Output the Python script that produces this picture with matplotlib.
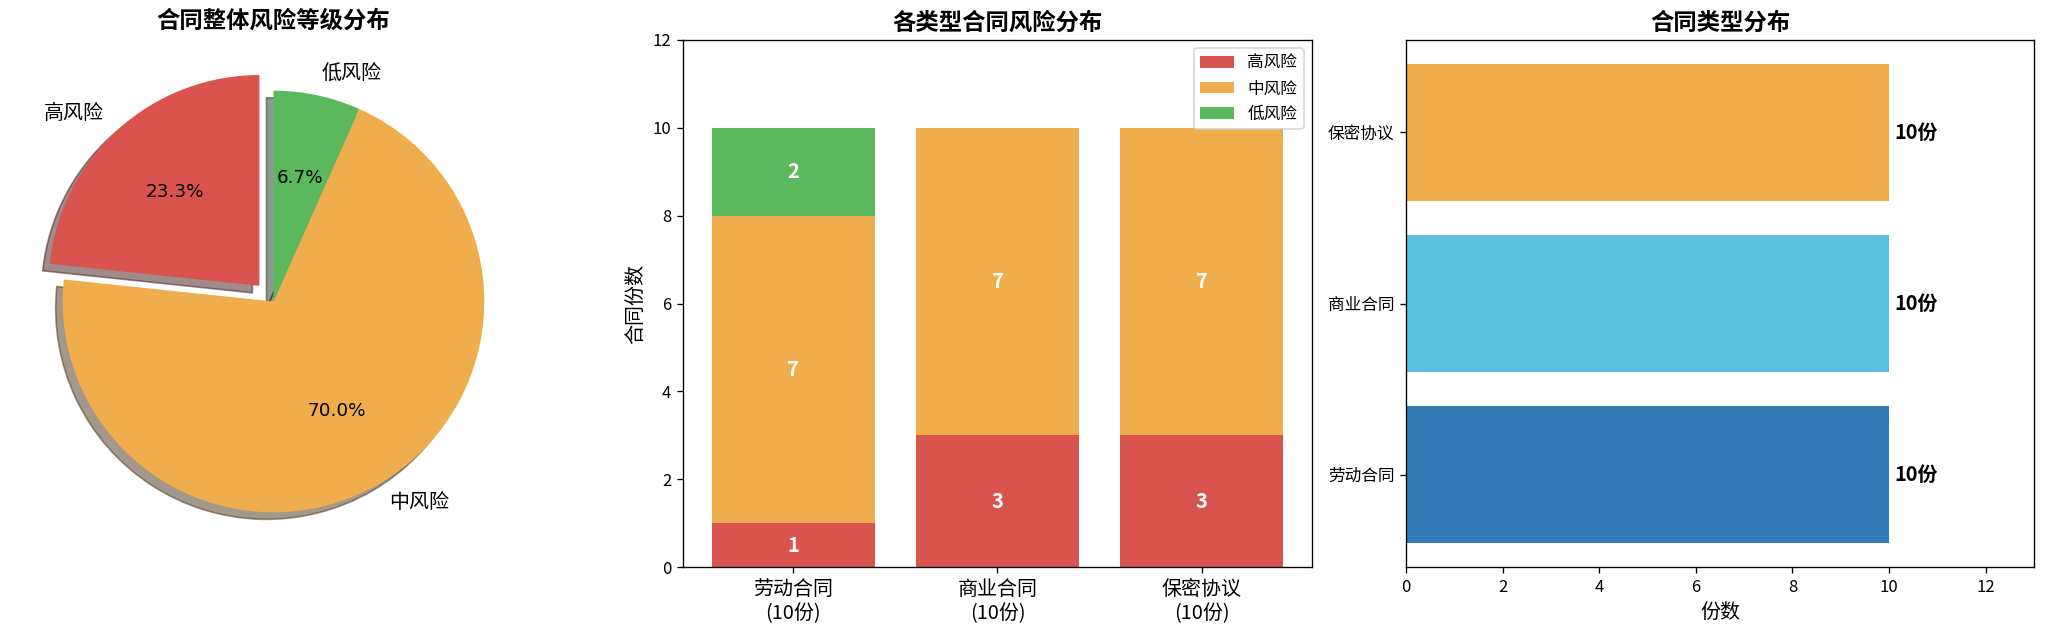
import matplotlib
matplotlib.use("Agg")
import matplotlib.pyplot as plt
import numpy as np

plt.rcParams['font.family'] = ['Noto Sans CJK SC', 'DejaVu Sans']
plt.rcParams['axes.unicode_minus'] = False

risk_levels = ['高风险', '中风险', '低风险']
risk_totals = [7, 21, 2]
risk_colors = ['#d9534f', '#f0ad4e', '#5cb85c']

contract_types = ['劳动合同', '商业合同', '保密协议']
high_counts = [1, 3, 3]
mid_counts = [7, 7, 7]
low_counts = [2, 0, 0]
type_totals = [10, 10, 10]
type_colors = ['#337ab7', '#5bc0de', '#f0ad4e']

W, H = 2046, 634
DPI = 120
fig = plt.figure(figsize=(W / DPI, H / DPI), dpi=DPI)

def box(left, top, right, bottom):
    return [left / W, 1 - bottom / H, (right - left) / W, (bottom - top) / H]

# pie
ax1 = fig.add_axes(box(10, 38, 537, 565))
wedges, texts, autotexts = ax1.pie(risk_totals, labels=risk_levels, colors=risk_colors,
                                   autopct='%1.1f%%', startangle=90, explode=(0.1, 0, 0),
                                   shadow=True, textprops={'fontsize': 12})
for t in autotexts:
    t.set_fontfamily('DejaVu Sans')
    t.set_fontsize(11)
ax1.set_title('合同整体风险等级分布', fontsize=14, fontweight='bold')

# stacked bars
ax2 = fig.add_axes(box(683, 40, 1312, 567))
x = np.arange(len(contract_types))
high = np.array(high_counts)
mid = np.array(mid_counts)
low = np.array(low_counts)
b1 = ax2.bar(x, high, color=risk_colors[0], label='高风险')
b2 = ax2.bar(x, mid, bottom=high, color=risk_colors[1], label='中风险')
b3 = ax2.bar(x, low, bottom=high + mid, color=risk_colors[2], label='低风险')
for bars, vals, base in [(b1, high, np.zeros(3)), (b2, mid, high), (b3, low, high + mid)]:
    for bar, v, b in zip(bars, vals, base):
        if v > 0:
            ax2.text(bar.get_x() + bar.get_width() / 2, b + v / 2, str(v),
                     ha='center', va='center', color='white', fontweight='bold', fontsize=12)
ax2.set_xticks(x)
ax2.set_xticklabels([f'{c}\n({n}份)' for c, n in zip(contract_types, type_totals)], fontsize=12)
ax2.set_ylim(0, 12)
ax2.set_ylabel('合同份数', fontsize=12)
ax2.set_title('各类型合同风险分布', fontsize=14, fontweight='bold')
ax2.legend(loc='upper right')

# horizontal bars
ax3 = fig.add_axes(box(1406, 40, 2034, 567))
bars = ax3.barh(contract_types, type_totals, color=type_colors)
for bar, v in zip(bars, type_totals):
    ax3.text(v + 0.1, bar.get_y() + bar.get_height() / 2, f'{v}份',
             va='center', ha='left', fontweight='bold', fontsize=12)
ax3.set_xlim(0, max(type_totals) * 1.3)
ax3.set_xlabel('份数', fontsize=12)
ax3.set_title('合同类型分布', fontsize=14, fontweight='bold')

fig.savefig('out.png', dpi=DPI)
